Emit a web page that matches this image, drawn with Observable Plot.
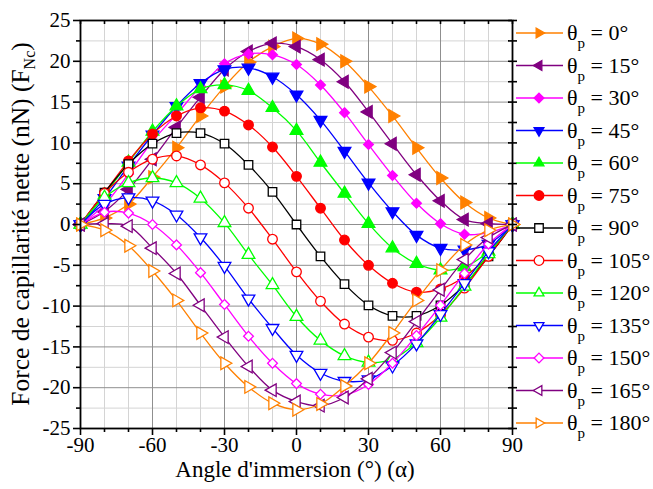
<!DOCTYPE html>
<html><head><meta charset="utf-8">
<script src="https://cdn.jsdelivr.net/npm/d3@7"></script>
<script src="https://cdn.jsdelivr.net/npm/@observablehq/plot@0.6"></script>
<style>body{margin:0;background:#fff}#chart{position:relative;width:653px;height:489px}
#chart svg text{font-family:"Liberation Serif",serif !important}</style>
</head><body><div id="chart"></div>
<script>
// ---- data ----
const alpha = [-90,-80,-70,-60,-50,-40,-30,-20,-10,0,10,20,30,40,50,60,70,80,90];
const thetas = [0,15,30,45,60,75,90,105,120,135,150,165,180];
const f0   = [0, 0.8, 2.5, 5.8, 9.4, 13.3, 16.9, 19.9, 21.8, 22.8, 22.1, 20.0, 16.9, 13.3, 9.4, 5.7, 2.7, 0.8, 0];
const f15  = [0, 1.6, 4.3, 8.0, 11.9, 15.6, 19.0, 21.2, 22.2, 21.8, 20.2, 17.5, 13.8, 9.9, 6.1, 2.9, 0.6, 0.1, 0];
const f30  = [0, 2.4, 6.2, 10.2, 13.5, 16.9, 19.7, 20.9, 20.8, 19.6, 17.1, 13.7, 9.8, 6.0, 2.6, 0.1, -1.2, -1.0, 0];
const f45  = [0, 3.2, 7.2, 11.0, 14.5, 17.3, 19.0, 19.2, 18.1, 15.9, 12.8, 9.0, 5.1, 1.6, -1.3, -2.9, -3.1, -2.4, 0];
const f60  = [0, 3.6, 7.6, 11.4, 14.5, 16.6, 17.1, 16.4, 14.3, 11.5, 7.6, 3.8, 0.1, -2.9, -4.8, -5.6, -5.2, -3.3, 0];
const f75  = [0, 3.9, 7.8, 11.1, 13.3, 14.3, 13.9, 12.2, 9.5, 5.9, 2.0, -1.9, -5.0, -7.2, -8.3, -7.9, -6.4, -3.8, 0];
const f90  = [0, 3.9, 7.4, 9.9, 11.2, 11.2, 9.9, 7.3, 4.0, 0, -3.9, -7.3, -9.9, -11.2, -11.2, -9.9, -7.4, -3.9, 0];
const f105 = [0, 3.8, 6.4, 8.0, 8.4, 7.3, 5.1, 2.0, -1.8, -5.8, -9.4, -12.2, -13.8, -14.2, -13.3, -11.1, -7.8, -3.9, 0];
const f120 = [0, 3.3, 5.1, 5.7, 5.1, 3.2, 0.2, -3.7, -7.4, -11.3, -14.2, -16.1, -16.9, -16.5, -14.5, -11.4, -7.6, -3.6, 0];
const f135 = [0, 2.5, 3.3, 2.9, 1.2, -1.6, -5.1, -9.1, -12.7, -16.0, -18.2, -19.2, -19.0, -17.3, -14.6, -11.0, -7.2, -3.3, 0];
const f150 = [0, 1.5, 1.4, 0, -2.5, -5.9, -9.8, -13.7, -17.0, -19.5, -20.8, -20.9, -19.6, -17.0, -13.6, -9.9, -6.0, -2.4, 0];
const f165 = [0, 0.1, -0.2, -2.9, -6.0, -9.9, -13.8, -17.4, -20.3, -21.7, -22.2, -21.2, -18.9, -15.7, -11.9, -8.0, -4.3, -1.6, 0];
const f180 = [0, -0.7, -2.6, -5.7, -9.3, -13.3, -17.0, -19.9, -21.9, -22.7, -22.0, -19.8, -17.0, -13.3, -9.3, -5.6, -2.5, -0.7, 0];
const values = [f0,f15,f30,f45,f60,f75,f90,f105,f120,f135,f150,f165,f180];

const xMajor = [-90,-60,-30,0,30,60,90];
const xMinor = [-80,-70,-50,-40,-20,-10,10,20,40,50,70,80];
const yMajor = [-25,-20,-15,-10,-5,0,5,10,15,20,25];
const yMinor = [-22.5,-17.5,-12.5,-7.5,-2.5,2.5,7.5,12.5,17.5,22.5];

// ---- styles ----
const serif = "Liberation Serif";
const colors  = ["#ff8000","#800080","#ff00ff","#0000ff","#00ff00","#ff0000","#000000",
                 "#ff0000","#00ff00","#0000ff","#ff00ff","#800080","#ff8000"];
const symbols = ["triangle","triangle","diamond2","triangle","triangle","circle","square",
                 "circle","triangle","triangle","diamond2","triangle","triangle"];
const rotations = [90,-90,0,180,0,0,0, 0,0,180,0,-90,90];
const filled = thetas.map(t => t < 90);
const sizes = symbols.map(s => s === "diamond2" ? 4.4 : s === "triangle" ? 4.7 : 4.8);

const series = thetas.map((t,i) => ({
  theta: t, color: colors[i], symbol: symbols[i], rotate: rotations[i], filled: filled[i], r: sizes[i],
  rows: alpha.map((a,j) => ({alpha: a, F: values[i][j], theta: t}))
}));

const marks = [
  Plot.ruleX(xMinor, {x: d => d, stroke: "#d4d4d4", strokeWidth: 1}),
  Plot.ruleY(yMinor, {y: d => d, stroke: "#d4d4d4", strokeWidth: 1}),
  Plot.ruleX(xMajor, {x: d => d, stroke: "#8f8f8f", strokeWidth: 1}),
  Plot.ruleY(yMajor, {y: d => d, stroke: "#8f8f8f", strokeWidth: 1})
];
for (const s of series) {
  marks.push(Plot.line(s.rows, {x: "alpha", y: "F", stroke: s.color, strokeWidth: 1.3, curve: "catmull-rom"}));
  marks.push(Plot.dot(s.rows, {x: "alpha", y: "F", symbol: () => s.symbol, r: s.r, rotate: s.rotate,
    fill: s.filled ? s.color : "#ffffff", stroke: s.color, strokeWidth: 1.3}));
}
marks.push(
  Plot.frame({stroke: "#000", strokeWidth: 1.8}),
  Plot.tickX(xMajor.concat(xMinor), {x: d => d, stroke: "#000", strokeWidth: 1.6, insetBottom: 404}),
  Plot.tickY(yMajor.concat(yMinor), {y: d => d, stroke: "#000", strokeWidth: 1.6, insetLeft: 428}),
  Plot.axisX({ticks: xMajor, tickSize: 7, tickPadding: 2, tickFormat: d => String(d), strokeWidth: 1.6,
    fontSize: 21, fontFamily: serif, label: null}),
  Plot.axisX({ticks: xMinor, tickSize: 4, text: null, strokeWidth: 1.6, label: null}),
  Plot.axisY({ticks: yMajor, tickSize: 7, tickPadding: 3, tickFormat: d => String(d), strokeWidth: 1.6,
    fontSize: 21, fontFamily: serif, label: null}),
  Plot.axisY({ticks: yMinor, tickSize: 4, text: null, strokeWidth: 1.6, label: null}),
  Plot.axisY({anchor: "right", ticks: yMajor.concat(yMinor), tickSize: 4, text: null, strokeWidth: 1.6, label: null})
);

const chart = Plot.plot({
  width: 653, height: 489,
  marginLeft: 80, marginRight: 141, marginTop: 20, marginBottom: 61,
  x: {domain: [-90, 90]},
  y: {domain: [-25, 25]},
  style: {fontFamily: serif, fontSize: "21px", color: "#000", background: "#fff"},
  marks
});
document.getElementById("chart").appendChild(chart);

// ---- labels & legend ----
const svg = d3.select(chart);
const yl = svg.append("text")
  .attr("transform", "translate(29,224) rotate(-90)")
  .attr("text-anchor", "middle").attr("font-size", 25.5).attr("fill", "#000");
yl.append("tspan").text("Force de capillarité nette (nN) (F");
yl.append("tspan").attr("dy", 6).attr("font-size", 16).text("Nc");
yl.append("tspan").attr("dy", -6).text(")");

svg.append("text").attr("x", 295).attr("y", 477)
  .attr("text-anchor", "middle").attr("font-size", 23).attr("fill", "#000")
  .text("Angle d'immersion (°) (α)");

const d3sym = {triangle: d3.symbolTriangle2, circle: d3.symbolCircle, square: d3.symbolSquare, diamond2: d3.symbolDiamond2};
const leg = svg.append("g");
series.forEach((s, i) => {
  const yy = 33 + i * 32.5;
  const g = leg.append("g").attr("transform", `translate(0,${yy})`);
  g.append("line").attr("x1", 516).attr("x2", 563).attr("y1", 0).attr("y2", 0)
    .attr("stroke", s.color).attr("stroke-width", 1.5);
  g.append("path").attr("d", d3.symbol(d3sym[s.symbol], s.r * s.r * Math.PI)())
    .attr("transform", `translate(539,0) rotate(${s.rotate})`)
    .attr("fill", s.filled ? s.color : "#fff").attr("stroke", s.color).attr("stroke-width", 1.3);
  const t = g.append("text").attr("x", 567).attr("y", 7).attr("text-anchor", "start")
    .attr("font-size", 22).attr("fill", "#000");
  t.append("tspan").text("θ");
  t.append("tspan").attr("dy", 8).attr("font-size", 15).text("p");
  t.append("tspan").attr("dy", -8).text(` = ${s.theta}°`);
});
svg.selectAll("text").style("font-family", "'Liberation Serif', serif");
</script>
</body></html>
